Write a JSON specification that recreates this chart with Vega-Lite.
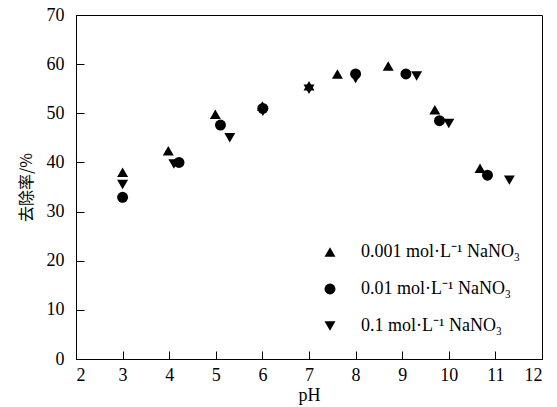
{
  "$schema": "https://vega.github.io/schema/vega-lite/v6.json",
  "width": 466,
  "height": 344,
  "autosize": "none",
  "padding": {"left": 76, "top": 15, "right": 15, "bottom": 48},
  "background": "white",
  "config": {
    "view": {"stroke": "black", "strokeWidth": 1},
    "font": "Liberation Serif",
    "axis": {
      "grid": false,
      "domainColor": "black",
      "tickColor": "black",
      "labelColor": "black",
      "titleColor": "black",
      "labelFont": "Liberation Serif",
      "labelFontSize": 18,
      "titleFontWeight": "normal",
      "titleFontSize": 18
    }
  },
  "data": {
    "values": [
      {"pH": 3.0, "rate": 32.9, "series": "0.01 mol·L⁻¹ NaNO₃"},
      {"pH": 4.21, "rate": 40.0, "series": "0.01 mol·L⁻¹ NaNO₃"},
      {"pH": 5.1, "rate": 47.6, "series": "0.01 mol·L⁻¹ NaNO₃"},
      {"pH": 6.01, "rate": 51.0, "series": "0.01 mol·L⁻¹ NaNO₃"},
      {"pH": 8.0, "rate": 58.0, "series": "0.01 mol·L⁻¹ NaNO₃"},
      {"pH": 9.08, "rate": 58.0, "series": "0.01 mol·L⁻¹ NaNO₃"},
      {"pH": 9.8, "rate": 48.5, "series": "0.01 mol·L⁻¹ NaNO₃"},
      {"pH": 10.83, "rate": 37.4, "series": "0.01 mol·L⁻¹ NaNO₃"},
      {"pH": 3.0, "rate": 38.0, "series": "0.001 mol·L⁻¹ NaNO₃"},
      {"pH": 3.98, "rate": 42.4, "series": "0.001 mol·L⁻¹ NaNO₃"},
      {"pH": 4.99, "rate": 49.8, "series": "0.001 mol·L⁻¹ NaNO₃"},
      {"pH": 6.0, "rate": 51.5, "series": "0.001 mol·L⁻¹ NaNO₃"},
      {"pH": 7.0, "rate": 55.6, "series": "0.001 mol·L⁻¹ NaNO₃"},
      {"pH": 7.61, "rate": 58.0, "series": "0.001 mol·L⁻¹ NaNO₃"},
      {"pH": 8.7, "rate": 59.6, "series": "0.001 mol·L⁻¹ NaNO₃"},
      {"pH": 9.7, "rate": 50.7, "series": "0.001 mol·L⁻¹ NaNO₃"},
      {"pH": 10.67, "rate": 38.8, "series": "0.001 mol·L⁻¹ NaNO₃"},
      {"pH": 3.0, "rate": 35.5, "series": "0.1 mol·L⁻¹ NaNO₃"},
      {"pH": 4.1, "rate": 39.7, "series": "0.1 mol·L⁻¹ NaNO₃"},
      {"pH": 5.3, "rate": 45.0, "series": "0.1 mol·L⁻¹ NaNO₃"},
      {"pH": 6.01, "rate": 50.4, "series": "0.1 mol·L⁻¹ NaNO₃"},
      {"pH": 7.0, "rate": 54.9, "series": "0.1 mol·L⁻¹ NaNO₃"},
      {"pH": 8.0, "rate": 57.1, "series": "0.1 mol·L⁻¹ NaNO₃"},
      {"pH": 9.31, "rate": 57.6, "series": "0.1 mol·L⁻¹ NaNO₃"},
      {"pH": 10.0, "rate": 47.9, "series": "0.1 mol·L⁻¹ NaNO₃"},
      {"pH": 11.3, "rate": 36.4, "series": "0.1 mol·L⁻¹ NaNO₃"}
    ]
  },
  "mark": {"type": "point", "filled": true, "opacity": 1, "size": 120, "color": "black"},
  "encoding": {
    "x": {
      "field": "pH", "type": "quantitative",
      "scale": {"domain": [2, 12], "nice": false, "zero": false},
      "axis": {"title": "pH", "values": [2,3,4,5,6,7,8,9,10,11,12], "tickSize": -8, "labelPadding": 15, "titlePadding": 2, "titleFont": "Liberation Serif"}
    },
    "y": {
      "field": "rate", "type": "quantitative",
      "scale": {"domain": [0, 70], "nice": false},
      "axis": {"title": "去除率/%", "titleFontSize": 16, "values": [0,10,20,30,40,50,60,70], "tickSize": -8, "labelPadding": 20, "titlePadding": 12, "titleFont": "Noto Sans CJK SC"}
    },
    "shape": {
      "field": "series", "type": "nominal",
      "scale": {
        "domain": ["0.001 mol·L⁻¹ NaNO₃", "0.01 mol·L⁻¹ NaNO₃", "0.1 mol·L⁻¹ NaNO₃"],
        "range": ["triangle-up", "circle", "triangle-down"]
      },
      "legend": {
        "title": null,
        "orient": "none",
        "legendX": 245,
        "legendY": 228,
        "padding": 0,
        "symbolSize": 120,
        "symbolFillColor": "black",
        "symbolStrokeColor": "black",
        "symbolType": "circle",
        "labelFontSize": 18,
        "labelFont": "Liberation Serif",
        "labelColor": "black",
        "labelOffset": 22,
        "rowPadding": 19
      }
    }
  }
}
